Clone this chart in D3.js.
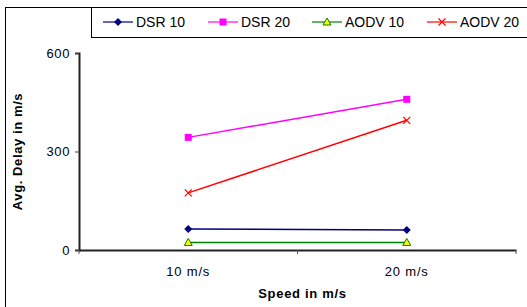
<!DOCTYPE html>
<html>
<head>
<meta charset="utf-8">
<script src="https://cdn.jsdelivr.net/npm/d3@7"></script>
<style>
  body { margin: 0; background: #fff; }
  text { font-family: "Liberation Sans", Arial, sans-serif; }
</style>
</head>
<body>
<div id="chart"></div>
<script>
// Data
const categories = ['10 m/s', '20 m/s'];
const seriesNames = ['DSR 10', 'DSR 20', 'AODV 10', 'AODV 20'];
const dsr10 = [64, 61];
const dsr20 = [343, 459];
const aodv10 = [23, 23];
const aodv20 = [174, 395];
const yTicks = [0, 300, 600];

const seriesValues = [dsr10, dsr20, aodv10, aodv20];
const colors = ['#000080', '#ff00ff', '#008000', '#ff0000'];
const markers = ['diamond', 'square', 'triangle', 'cross'];

const W = 527, H = 307;
const plot = {left: 79, right: 516, top: 53, bottom: 250};

const svg = d3.select('#chart').append('svg')
  .attr('width', W).attr('height', H);

// outer frame (only left/top visible in the crop)
svg.append('rect')
  .attr('x', 5.5).attr('y', 7.5)
  .attr('width', 600).attr('height', 400)
  .attr('fill', 'none').attr('stroke', '#000').attr('stroke-width', 1);

const x = d3.scaleBand().domain(categories).range([plot.left, plot.right]);
const y = d3.scaleLinear().domain([0, 600]).range([plot.bottom, plot.top]);

// y axis
const yAxis = svg.append('g')
  .attr('transform', `translate(${plot.left},0)`)
  .call(d3.axisLeft(y).tickValues(yTicks).tickSize(4).tickPadding(5));
yAxis.select('.domain').attr('stroke', '#222').attr('stroke-width', 2);
yAxis.selectAll('.tick line').attr('stroke', '#444');
yAxis.selectAll('.tick text').attr('font-size', 13).attr('letter-spacing', 0.6)
  .attr('font-family', '"Liberation Sans", Arial, sans-serif').attr('fill', '#000');

// x axis
const xAxis = svg.append('g')
  .attr('transform', `translate(0,${plot.bottom})`)
  .call(d3.axisBottom(x).tickSize(0).tickPadding(17));
xAxis.select('.domain').attr('stroke', '#222').attr('stroke-width', 2);
xAxis.selectAll('.tick text').attr('font-size', 13).attr('letter-spacing', 0.8)
  .attr('font-family', '"Liberation Sans", Arial, sans-serif').attr('fill', '#000');
// category separator ticks
xAxis.selectAll('.sep')
  .data([plot.left, (plot.left + plot.right) / 2, plot.right])
  .enter().append('line')
  .attr('x1', d => d).attr('x2', d => d)
  .attr('y1', 0).attr('y2', 4)
  .attr('stroke', '#555').attr('stroke-width', 1);

// axis titles
svg.append('text')
  .attr('transform', `translate(22,${(plot.top + plot.bottom) / 2}) rotate(-90)`)
  .attr('text-anchor', 'middle')
  .attr('font-size', 13).attr('font-weight', 'bold').attr('letter-spacing', 0.6)
  .text('Avg. Delay in m/s');

svg.append('text')
  .attr('x', (plot.left + plot.right) / 2 + 5).attr('y', 298)
  .attr('text-anchor', 'middle')
  .attr('font-size', 13).attr('font-weight', 'bold').attr('letter-spacing', 0.7)
  .text('Speed in m/s');

function drawMarker(g, type, color, cx, cy) {
  if (type === 'diamond') {
    g.append('path').attr('d', `M${cx},${cy - 4}L${cx + 4},${cy}L${cx},${cy + 4}L${cx - 4},${cy}Z`)
      .attr('fill', color);
  } else if (type === 'square') {
    g.append('rect').attr('x', cx - 3.5).attr('y', cy - 3.5).attr('width', 7).attr('height', 7)
      .attr('fill', color);
  } else if (type === 'triangle') {
    g.append('path').attr('d', `M${cx},${cy - 4}L${cx + 4},${cy + 3}L${cx - 4},${cy + 3}Z`)
      .attr('fill', '#ffff00').attr('stroke', color).attr('stroke-width', 1);
  } else {
    g.append('path').attr('d', `M${cx - 3.5},${cy - 3.5}L${cx + 3.5},${cy + 3.5}M${cx + 3.5},${cy - 3.5}L${cx - 3.5},${cy + 3.5}`)
      .attr('stroke', color).attr('stroke-width', 1.2).attr('fill', 'none');
  }
}

// series
const line = d3.line()
  .x((d, i) => x(categories[i]) + x.bandwidth() / 2)
  .y(d => y(d));

seriesValues.forEach((vals, s) => {
  const g = svg.append('g');
  g.append('path').datum(vals)
    .attr('d', line)
    .attr('fill', 'none')
    .attr('stroke', colors[s])
    .attr('stroke-width', 1.5);
  vals.forEach((v, i) => {
    drawMarker(g, markers[s], colors[s], x(categories[i]) + x.bandwidth() / 2, y(v));
  });
});

// legend
const legend = svg.append('g');
legend.append('rect')
  .attr('x', 91.5).attr('y', 7.5).attr('width', 500).attr('height', 30)
  .attr('fill', '#fff').attr('stroke', '#000').attr('stroke-width', 1);
const legendX = [103, 208, 312, 427];
seriesNames.forEach((name, s) => {
  const lg = legend.append('g');
  const lx = legendX[s], ly = 22;
  lg.append('line').attr('x1', lx).attr('x2', lx + 30).attr('y1', ly).attr('y2', ly)
    .attr('stroke', colors[s]).attr('stroke-width', 1.2);
  drawMarker(lg, markers[s], colors[s], lx + 15, ly);
  lg.append('text').attr('x', lx + 33).attr('y', ly + 5)
    .attr('font-size', 14).text(name);
});
</script>
</body>
</html>
